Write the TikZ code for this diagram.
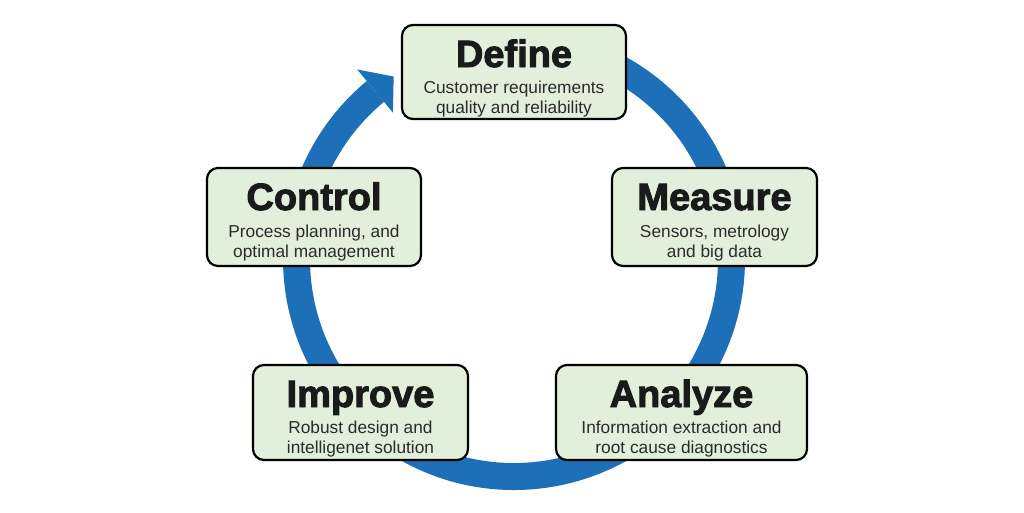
\documentclass[tikz,border=0pt]{standalone}
\usepackage{fontspec}
\setmainfont{Liberation Sans}
\newfontfamily\heavy{Liberation Sans Bold}[FakeBold=2.5]
\definecolor{boxfill}{HTML}{E2EFDA}
\definecolor{ringblue}{HTML}{1D70B8}
\definecolor{titlecol}{HTML}{1A1A1A}
\definecolor{subcol}{HTML}{2B2B2B}
\begin{document}
\begin{tikzpicture}[x=1pt,y=-1pt,
  box/.style={draw=black, line width=2.2pt, fill=boxfill, rounded corners=11pt, inner sep=0pt},
  ttl/.style={anchor=base, inner sep=0pt, font=\heavy\fontsize{38}{38}\selectfont, text=titlecol},
  sub/.style={anchor=base, inner sep=0pt, font=\fontsize{17.3}{17.3}\selectfont, text=subcol},
  ring/.style={draw=ringblue, line width=27pt},
  head/.style={fill=ringblue}]
\useasboundingbox (0,0) rectangle (1024,512);
\fill[white] (0,0) rectangle (1024,512);
\coordinate (c) at (514,259);
% ring
\draw[ring] (c) ++(-95:217.5) arc[start angle=-95, end angle=230.4, radius=217.5];
\fill[head, shift={(c)}] (230.4:246) -- (236.6:218.6) -- (230.4:190) -- cycle;
% boxes
\node[box, minimum width=224pt, minimum height=94pt] (define) at (514,72) {};
\node[box, minimum width=214pt, minimum height=98pt] (control) at (314,217) {};
\node[box, minimum width=205pt, minimum height=98pt] (measure) at (714.5,217) {};
\node[box, minimum width=215pt, minimum height=95pt] (improve) at (360.5,412.5) {};
\node[box, minimum width=251pt, minimum height=95pt] (analyze) at (681.5,412.5) {};
% texts
\node[ttl] (defT) at (514,67) {Define};
\node[sub] (defA) at (514,93.5) {Customer requirements};
\node[sub] (defB) at (514,113) {quality and reliability};
\node[ttl] (conT) at (314,210) {Control};
\node[sub] (conA) at (314,237.5) {Process planning, and};
\node[sub] (conB) at (314,257) {optimal management};
\node[ttl] (meaT) at (714.5,210) {Measure};
\node[sub] (meaA) at (714.5,237.5) {Sensors, metrology};
\node[sub] (meaB) at (714.5,257) {and big data};
\node[ttl] (impT) at (360.5,407) {Improve};
\node[sub] (impA) at (360.5,433.5) {Robust design and};
\node[sub] (impB) at (360.5,453) {intelligenet solution};
\node[ttl] (anaT) at (681.5,407) {Analyze};
\node[sub] (anaA) at (681.5,433.5) {Information extraction and};
\node[sub] (anaB) at (681.5,453) {root cause diagnostics};
\end{tikzpicture}
\end{document}
